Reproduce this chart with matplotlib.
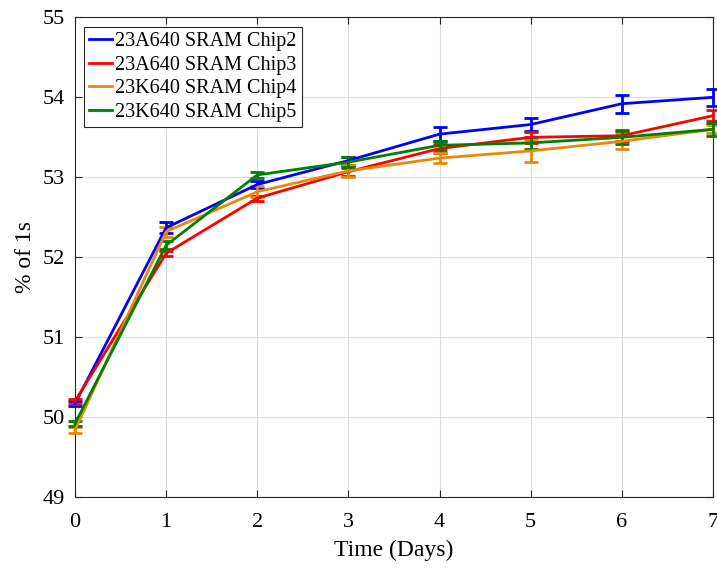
import matplotlib
matplotlib.use('Agg')
import matplotlib.pyplot as plt
from matplotlib.lines import Line2D
import numpy as np

plt.rcParams['font.family'] = ['Liberation Serif', 'DejaVu Serif']

days = [0, 1, 2, 3, 4, 5, 6, 7]
labels = ['23A640 SRAM Chip2', '23A640 SRAM Chip3', '23K640 SRAM Chip4', '23K640 SRAM Chip5']

chip2 = [50.17, 52.37, 52.91, 53.21, 53.54, 53.66, 53.92, 54.00]
chip3 = [50.20, 52.05, 52.74, 53.07, 53.36, 53.50, 53.52, 53.77]
chip4 = [49.84, 52.32, 52.82, 53.08, 53.24, 53.33, 53.45, 53.60]
chip5 = [49.92, 52.15, 53.03, 53.19, 53.40, 53.43, 53.50, 53.60]

err2 = [0.03, 0.07, 0.04, 0.05, 0.09, 0.08, 0.11, 0.11]
err3 = [0.03, 0.03, 0.03, 0.05, 0.06, 0.07, 0.07, 0.07]
err4 = [0.04, 0.06, 0.07, 0.07, 0.06, 0.14, 0.10, 0.05]
err5 = [0.03, 0.05, 0.04, 0.06, 0.06, 0.08, 0.08, 0.08]

colors = ['#0000ff', '#ff0000', '#e8890c', '#007f00']

fig = plt.figure(figsize=(7.17, 5.68), dpi=100)
ax = fig.add_axes([0.1046, 0.1245, 0.8898, 0.845])

for vals, err, c in zip([chip2, chip3, chip4, chip5], [err2, err3, err4, err5], colors):
    ax.errorbar(days, vals, yerr=err, color=c, lw=2.0, elinewidth=2.0,
                capsize=5, capthick=2.0, clip_on=False, zorder=3)

ax.set_xlim(0, 7)
ax.set_ylim(49, 55)
ax.set_xticks(days)
ax.set_yticks(np.arange(49, 56, 1))
ax.grid(True, color='#dcdcdc', lw=0.8)
ax.set_axisbelow(True)
ax.tick_params(direction='in', top=True, right=True, labelsize=16, length=5, color='#262626')
ax.tick_params(axis='x', pad=11)
ax.tick_params(axis='y', pad=7)
for s in ax.spines.values():
    s.set_color('#262626')
    s.set_linewidth(0.8)

ax.set_xlabel('Time (Days)', fontsize=17, labelpad=6)
ax.set_ylabel('% of 1s', fontsize=17, labelpad=5)

# plain line handles for the legend
handles = [Line2D([], [], color=c, lw=2.0) for c in colors]
leg = ax.legend(handles, labels, loc='upper left', bbox_to_anchor=(0.0141, 0.98), fontsize=14.5,
                handlelength=1.15, handletextpad=0.15, borderpad=0.25, labelspacing=0.22,
                borderaxespad=0, fancybox=False, edgecolor='#262626', framealpha=1)
leg.get_frame().set_linewidth(0.8)

fig.savefig('out.png', dpi=100)
